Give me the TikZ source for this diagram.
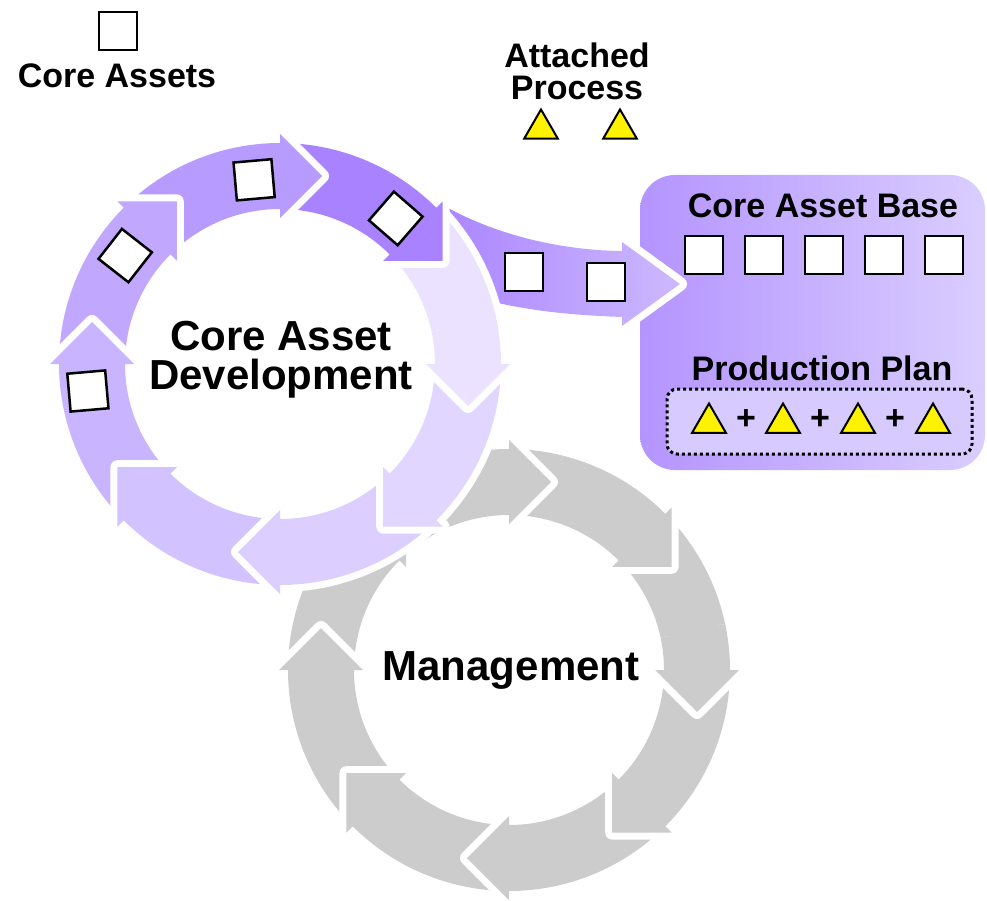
\documentclass[tikz,border=0pt]{standalone}
\usepackage{fontspec}
\setmainfont{Liberation Sans}
\usetikzlibrary{calc,shapes.geometric}

\definecolor{cad0}{HTML}{EAE2FF}
\definecolor{cad1}{HTML}{A982FF}
\definecolor{cad2}{HTML}{B89BFF}
\definecolor{cad3}{HTML}{C2A7FF}
\definecolor{cad4}{HTML}{C9B5FF}
\definecolor{cad5}{HTML}{D2C2FF}
\definecolor{cad6}{HTML}{DCCFFF}
\definecolor{cad7}{HTML}{E1D6FF}
\definecolor{mgmt}{HTML}{CCCCCC}
\definecolor{boxL}{HTML}{B494FF}
\definecolor{boxR}{HTML}{DACEFF}
\definecolor{planfill}{HTML}{D6CAFF}
\definecolor{flowL}{HTML}{A983FF}
\definecolor{flowR}{HTML}{CDB9FF}

\tikzset{
    halo/.style={preaction={draw=white, line width=14pt, line join=round}},
    asset/.style={draw=black, fill=white, line width=2.5pt, minimum size=38pt, inner sep=0pt},
    procstep/.style={regular polygon, regular polygon sides=3, draw=black, fill=yellow,
        line width=2pt, minimum size=39pt, inner sep=0pt},
    lbl/.style={font=\fontsize{34}{32}\selectfont\bfseries, align=center, inner sep=0pt},
    biglbl/.style={font=\fontsize{42}{39}\selectfont\bfseries, align=center, inner sep=0pt},
    plus/.style={font=\fontsize{34}{34}\selectfont\bfseries, inner sep=0pt}
}

% one 45 degree piece of a ring, head at angle #2, pointing clockwise
\newcommand{\ringarrow}[3]{%
    \begin{scope}[shift={(#1)}, rotate=#2]
        \fill[#3, halo] (45:221) arc[start angle=45, end angle=0, radius=221]
            -- (230,0) -- (188,-42) -- (146,0) -- (155,0)
            arc[start angle=0, end angle=45, radius=155] -- cycle;
    \end{scope}}

\begin{document}
\begin{tikzpicture}[x=1pt, y=1pt]
    \useasboundingbox (0,0) rectangle (987,-901);

    \coordinate (pc) at (280,-364);
    \coordinate (gc) at (509,-670);

    % core asset base
    \node[rectangle, rounded corners=35pt, left color=boxL, right color=boxR,
        minimum width=345pt, minimum height=295pt, inner sep=0pt] (basebox) at (812.5,-322.5) {};
    \node[lbl, anchor=base] (baselbl) at (823,-218) {Core Asset Base};
    \node[asset] (b1) at (704,-255) {};
    \node[asset] (b2) at (764,-255) {};
    \node[asset] (b3) at (824,-255) {};
    \node[asset] (b4) at (884,-255) {};
    \node[asset] (b5) at (944,-255) {};

    \node[lbl, anchor=base] (planlbl) at (822,-380) {Production Plan};
    \node[rectangle, rounded corners=10pt, fill=planfill, draw=black, line width=3pt,
        dash pattern=on 3pt off 3pt, minimum width=305pt, minimum height=65pt] (planbox) at (819.5,-421.5) {};
    \node[procstep] (p1) at (709,-423) {};
    \node[plus] (pl1) at (746,-420) {+};
    \node[procstep] (p2) at (783,-423) {};
    \node[plus] (pl2) at (820,-420) {+};
    \node[procstep] (p3) at (858,-423) {};
    \node[plus] (pl3) at (895,-420) {+};
    \node[procstep] (p4) at (933,-423) {};

    % flow into the base
    \path[left color=flowL, right color=flowR, halo]
        (430,-197) .. controls (470,-224) and (540,-250) .. (622,-251)
        -- (622,-242) -- (680,-284) -- (622,-326) -- (622,-317)
        .. controls (570,-315) and (530,-311) .. (485,-300)
        -- (440,-250) -- cycle;
    \node[asset] (f1) at (524,-272) {};
    \node[asset] (f2) at (606,-282) {};

    % management ring
    \ringarrow{gc}{0}{mgmt}
    \ringarrow{gc}{45}{mgmt}
    \ringarrow{gc}{90}{mgmt}
    \ringarrow{gc}{135}{mgmt}
    \ringarrow{gc}{180}{mgmt}
    \ringarrow{gc}{225}{mgmt}
    \ringarrow{gc}{270}{mgmt}
    \ringarrow{gc}{315}{mgmt}
    \begin{scope}
        \clip (gc) -- ($(gc)+(12:300)$) -- ($(gc)+(-35:300)$) -- cycle;
        \ringarrow{gc}{0}{mgmt}
    \end{scope}
    \node[biglbl, anchor=base] (mgmtlbl) at (511,-680) {Management};

    % core asset development ring
    \ringarrow{pc}{0}{cad0}
    \ringarrow{pc}{45}{cad1}
    \ringarrow{pc}{90}{cad2}
    \ringarrow{pc}{135}{cad3}
    \ringarrow{pc}{180}{cad4}
    \ringarrow{pc}{225}{cad5}
    \ringarrow{pc}{270}{cad6}
    \ringarrow{pc}{315}{cad7}
    \begin{scope}
        \clip (pc) -- ($(pc)+(12:300)$) -- ($(pc)+(-35:300)$) -- cycle;
        \ringarrow{pc}{0}{cad0}
    \end{scope}
    \node[biglbl] (cadlbl) at (281,-360) {Core Asset\\Development};

    \node[asset, rotate=5] (ca1) at ($(pc)+(188:194)$) {};
    \node[asset, rotate=52] (ca2) at ($(pc)+(145:189)$) {};
    \node[asset, rotate=5] (ca3) at ($(pc)+(98:186)$) {};
    \node[asset, rotate=49] (ca4) at ($(pc)+(51.5:186)$) {};

    % legend
    \node[asset] (legsq) at (118,-31) {};
    \node[lbl, anchor=base] (leglbl) at (117,-88) {Core Assets};
    \node[lbl] (attlbl) at (577,-71) {Attached\\Process};
    \node[procstep] (att1) at (541,-129) {};
    \node[procstep] (att2) at (620,-129) {};
\end{tikzpicture}
\end{document}
